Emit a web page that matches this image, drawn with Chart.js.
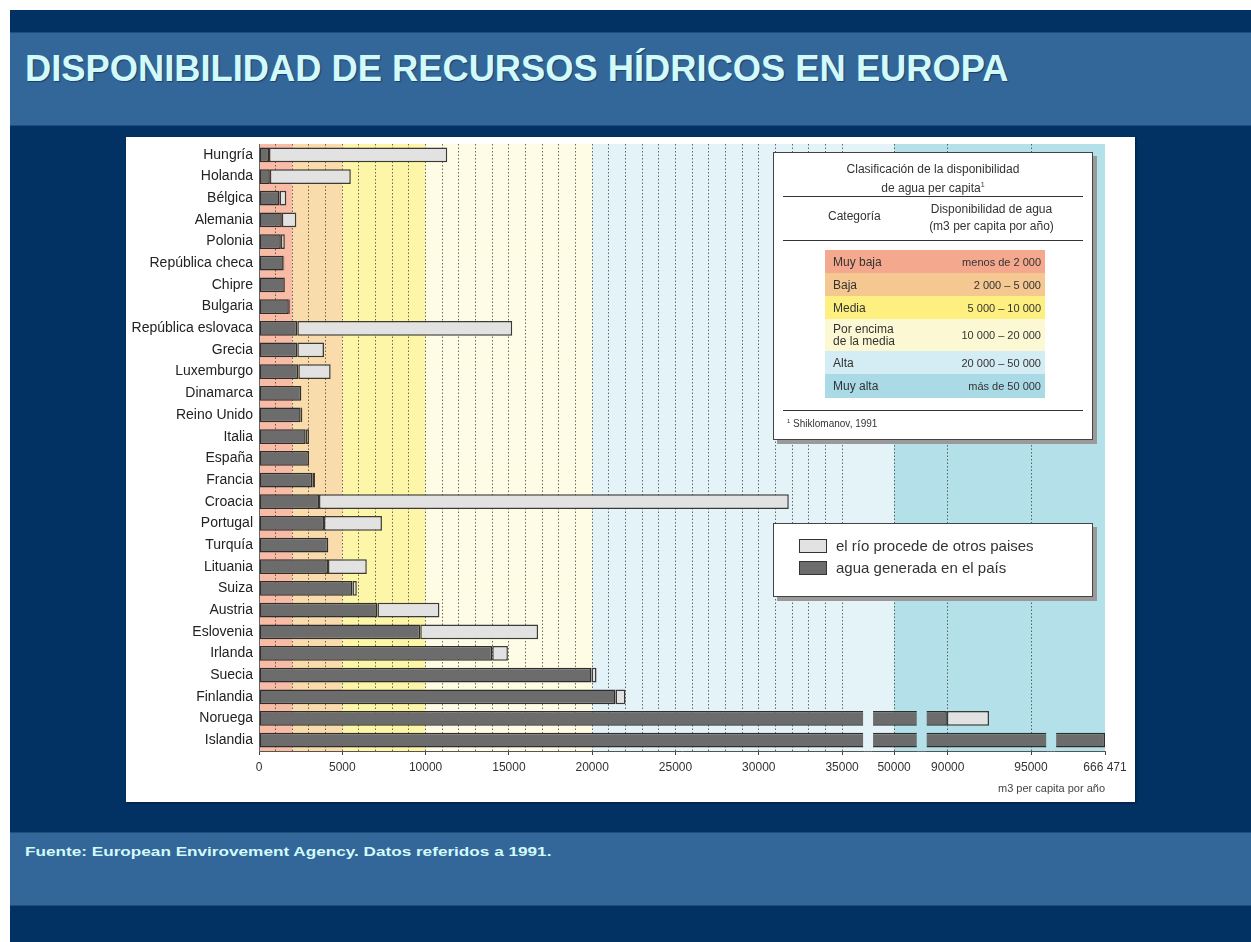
<!DOCTYPE html>
<html lang="es">
<head>
<meta charset="utf-8">
<title>Disponibilidad de recursos hídricos en Europa</title>
<script src="https://cdn.jsdelivr.net/npm/chart.js@4.4.1/dist/chart.umd.min.js"></script>
<style>
  html, body { margin: 0; padding: 0; background: #fff; }
  body { width: 1251px; height: 942px; position: relative; overflow: hidden;
         font-family: "Liberation Sans", Arial, sans-serif; }
  #slide { position: absolute; left: 10px; top: 10px; width: 1241px; height: 932px; background: #023263; }
  .band { position: absolute; left: 10px; width: 1241px; background: #336699;
          border-top: 1px solid #1f4d7d; border-bottom: 1px solid #1f4d7d; }
  #title { position: absolute; left: 25px; top: 51px; margin: 0; font-size: 36.3px; line-height: 36px;
           font-weight: bold; color: #d2fafa; text-shadow: 1px 1px 1px #1b3f66; white-space: nowrap; }
  #source { position: absolute; left: 25px; top: 845px; font-size: 13px; line-height: 13px;
            font-weight: bold; color: #d2fafa; white-space: nowrap;
            transform: scaleX(1.32); transform-origin: 0 0; }
  #panel { position: absolute; left: 126px; top: 137px; width: 1009px; height: 665px; background: #fff;
           box-shadow: 1px 1px 2px rgba(0,0,0,0.4); }
  #panel canvas { position: absolute; left: 0; top: 0; }
  .box { position: absolute; background: #fff; border: 1px solid #444; box-shadow: 4px 4px 0 #9a9a9a;
         color: #333; box-sizing: border-box; }
  .box .t { position: absolute; white-space: nowrap; }
  .box .rule { position: absolute; left: 9px; right: 9px; height: 0; border-top: 1.5px solid #333; }
  .zone { position: absolute; left: 51px; width: 220px; font-size: 12px; color: #333; }
  .zone span { position: absolute; top: 50%; transform: translateY(-50%); }
  .zone .n { left: 8px; line-height: 12px; }
  .zone .r { right: 4px; font-size: 11px; }
  #legend { left: 773px; top: 523px; width: 320px; height: 74px; }
  .lg { position: absolute; left: 25px; font-size: 15px; color: #333; white-space: nowrap; }
  .lg i { display: inline-block; width: 26px; height: 12px; border: 1.5px solid #333; vertical-align: -2px;
          margin-right: 9px; }
</style>
</head>
<body>
<div id="slide"></div>
<div class="band" style="top:32px;height:92px;"></div>
<div class="band" style="top:832px;height:72px;"></div>
<h1 id="title">DISPONIBILIDAD DE RECURSOS HÍDRICOS EN EUROPA</h1>
<div id="source">Fuente: European Envirovement Agency. Datos referidos a 1991.</div>

<div id="panel"><canvas id="aguaChart"></canvas></div>

<div class="box" id="clasif" style="left:773px;top:152px;width:320px;height:288px;">
  <div class="t" style="left:0;right:0;top:9px;text-align:center;font-size:12px;line-height:15px;">Clasificación de la disponibilidad<br>de agua per capita<sup style="font-size:7px;">1</sup></div>
  <div class="rule" style="top:43px;"></div>
  <div class="t" style="left:54px;top:56px;font-size:12px;">Categoría</div>
  <div class="t" style="left:140px;width:155px;top:48px;text-align:center;font-size:12px;line-height:17px;">Disponibilidad de agua<br>(m3 per capita por año)</div>
  <div class="rule" style="top:87px;"></div>
  <div id="zoneRows"></div>
  <div class="rule" style="top:257px;"></div>
  <div class="t" style="left:13px;top:265px;font-size:10px;"><sup style="font-size:6px;">1</sup> Shiklomanov, 1991</div>
</div>

<div class="box" id="legend"></div>

<script>
// datos (m3 per capita por año, 1991)
const paises = ['Hungría', 'Holanda', 'Bélgica', 'Alemania', 'Polonia', 'República checa', 'Chipre',
    'Bulgaria', 'República eslovaca', 'Grecia', 'Luxemburgo', 'Dinamarca', 'Reino Unido', 'Italia',
    'España', 'Francia', 'Croacia', 'Portugal', 'Turquía', 'Lituania', 'Suiza', 'Austria', 'Eslovenia',
    'Irlanda', 'Suecia', 'Finlandia', 'Noruega', 'Islandia'];
const aguaPropia = [600, 650, 1230, 1370, 1310, 1480, 1550, 1790, 2300, 2300, 2360, 2540, 2500, 2800,
    3000, 3200, 3600, 3900, 4160, 4140, 5610, 7110, 9680, 14000, 19960, 21400, 89950, 666471];
const aguaExterna = [10700, 4860, 410, 870, 240, 40, 0, 60, 12900, 1600, 1940, 0, 100, 200,
    0, 160, 28200, 3480, 0, 2330, 260, 3720, 7070, 940, 300, 600, 2530, 0];

const tickValues = [0, 5000, 10000, 15000, 20000, 25000, 30000, 35000, 50000, 90000, 95000, 666471];
const tickLabels = ['0', '5000', '10000', '15000', '20000', '25000', '30000', '35000', '50000', '90000', '95000', '666 471'];
const ejeMax = 666471;
// tramos visibles del eje cortado
const tramos = [[0, 36200], [48800, 51300], [88800, 95850], [663600, 666471]];
const corte = 720;

const zonaLimites = [0, 2000, 5000, 10000, 20000, 50000, ejeMax];
const zonaNombres = ['Muy baja', 'Baja', 'Media', 'Por encima<br>de la media', 'Alta', 'Muy alta'];
const zonaRangos = ['menos de 2 000', '2 000 – 5 000', '5 000 – 10 000', '10 000 – 20 000', '20 000 – 50 000', 'más de 50 000'];
const zonaFondo = ['#f8bba5', '#f9dbac', '#fdf5a8', '#fefce4', '#e3f3f7', '#b3e0e9'];
const zonaTabla = ['#f4a98e', '#f5c892', '#fdef80', '#fdf8d4', '#d4ecf3', '#a9dae6'];

// lineas de rejilla cada 1000 hasta 35000
const rejilla = [];
for (let v = 0; v <= 35000; v += 1000) rejilla.push(v);
rejilla.push(50000, 90000, 95000, ejeMax);

function comprimir(v) {
    let off = 0;
    for (let i = 0; i < tramos.length; i++) {
        const [a, b] = tramos[i];
        if (v <= b) return off + Math.max(0, v - a);
        off += (b - a) + corte;
    }
    return off - corte;
}
const totalComprimido = comprimir(ejeMax);

function expandir(c) {
    let off = 0;
    for (let i = 0; i < tramos.length; i++) {
        const [a, b] = tramos[i];
        if (c <= off + (b - a)) return a + Math.max(0, c - off);
        off += (b - a) + corte;
    }
    return ejeMax;
}

class EjeCortado extends Chart.LinearScale {
    determineDataLimits() {
        this.min = 0;
        this.max = ejeMax;
    }
    buildTicks() {
        return rejilla.map(v => ({ value: v }));
    }
    getPixelForValue(value) {
        if (value === null || value === undefined || isNaN(value)) return NaN;
        return this.getPixelForDecimal(comprimir(value) / totalComprimido);
    }
    getValueForPixel(pixel) {
        return expandir(this.getDecimalForPixel(pixel) * totalComprimido);
    }
}
EjeCortado.id = 'cortado';
EjeCortado.defaults = Chart.LinearScale.defaults;
Chart.register(EjeCortado);

function colorZona(v) {
    for (let i = 0; i < zonaFondo.length; i++) {
        if (v < zonaLimites[i + 1]) return zonaFondo[i];
    }
    return zonaFondo[zonaFondo.length - 1];
}

const fondoZonas = {
    id: 'fondoZonas',
    beforeDraw(chart) {
        const { ctx, chartArea } = chart;
        const x = chart.scales.x;
        ctx.save();
        for (let i = 0; i < zonaFondo.length; i++) {
            const x0 = x.getPixelForValue(zonaLimites[i]);
            const x1 = x.getPixelForValue(zonaLimites[i + 1]);
            ctx.fillStyle = zonaFondo[i];
            ctx.fillRect(x0, chartArea.top, x1 - x0, chartArea.bottom - chartArea.top);
        }
        ctx.restore();
    },
    afterDatasetsDraw(chart) {
        // huecos del eje cortado
        const { ctx, chartArea } = chart;
        const x = chart.scales.x;
        ctx.save();
        for (let i = 0; i < tramos.length - 1; i++) {
            const x0 = x.getPixelForValue(tramos[i][1]) + 1;
            const x1 = x.getPixelForValue(tramos[i + 1][0]) - 1;
            ctx.fillStyle = colorZona(tramos[i][1]);
            ctx.fillRect(x0, chartArea.top, x1 - x0, chartArea.bottom - chartArea.top - 1);
            ctx.fillStyle = '#777';
            for (let d = x0 + 1; d < x1; d += 3) ctx.fillRect(d, chartArea.bottom, 1.5, 1);
        }
        ctx.restore();
    }
};

const ctx = document.getElementById('aguaChart').getContext('2d');
const chart = new Chart(ctx, {
    type: 'bar',
    data: {
        labels: paises,
        datasets: [
            {
                label: 'agua generada en el país',
                data: aguaPropia,
                backgroundColor: '#6c6c6c',
                borderColor: '#2e2e2e',
                borderWidth: 1.5,
                borderSkipped: false
            },
            {
                label: 'el río procede de otros paises',
                data: aguaExterna,
                backgroundColor: '#e2e2e2',
                borderColor: '#3a3a3a',
                borderWidth: 1.5,
                borderSkipped: false
            }
        ]
    },
    options: {
        indexAxis: 'y',
        responsive: true,
        maintainAspectRatio: false,
        animation: false,
        barPercentage: 0.68,
        categoryPercentage: 1,
        layout: { padding: { top: 7, right: 30, left: 0, bottom: 0 } },
        plugins: {
            legend: { display: false },
            tooltip: { enabled: false }
        },
        scales: {
            x: {
                type: 'cortado',
                stacked: true,
                afterFit: s => { s.height = 51; },
                grid: {
                    color: c => (c.tick && c.tick.value > 0 && c.tick.value < ejeMax) ? 'rgba(30,30,30,0.65)' : 'rgba(0,0,0,0)',
                    lineWidth: 1,
                    drawTicks: true,
                    tickLength: 4,
                    tickColor: c => (c.tick && tickValues.includes(c.tick.value)) ? '#444' : 'rgba(0,0,0,0)'
                },
                border: { display: true, color: '#555', width: 1, dash: [1.5, 2] },
                ticks: {
                    autoSkip: false,
                    maxRotation: 0,
                    padding: 5,
                    color: '#333',
                    font: { family: '"Liberation Sans", Arial, sans-serif', size: 12 },
                    callback: v => {
                        const i = tickValues.indexOf(v);
                        return i >= 0 ? tickLabels[i] : '';
                    }
                },
                title: {
                    display: true,
                    text: 'm3 per capita por año',
                    align: 'end',
                    color: '#444',
                    font: { family: '"Liberation Sans", Arial, sans-serif', size: 11 },
                    padding: { top: 0, bottom: 6 }
                }
            },
            y: {
                stacked: true,
                afterFit: s => {
                    s.width = 133;
                    s.paddingTop = 0;
                    s.paddingBottom = 0;
                },
                grid: { display: false, drawTicks: false },
                border: { display: true, color: '#666', width: 1 },
                ticks: {
                    autoSkip: false,
                    padding: 6,
                    color: '#222',
                    font: { family: '"Liberation Sans", Arial, sans-serif', size: 14 }
                }
            }
        }
    },
    plugins: [fondoZonas]
});

// tabla de clasificacion
const filas = document.getElementById('zoneRows');
const alturas = [23, 23, 23, 32, 23, 24];
let posY = 97;
zonaNombres.forEach((n, i) => {
    const d = document.createElement('div');
    d.className = 'zone';
    d.style.top = posY + 'px';
    d.style.height = alturas[i] + 'px';
    d.style.background = zonaTabla[i];
    d.innerHTML = '<span class="n">' + n + '</span><span class="r">' + zonaRangos[i] + '</span>';
    filas.appendChild(d);
    posY += alturas[i];
});

// leyenda a partir de los datasets
const leyenda = document.getElementById('legend');
chart.data.datasets.slice().reverse().forEach((ds, i) => {
    const d = document.createElement('div');
    d.className = 'lg';
    d.style.top = (13 + i * 22) + 'px';
    d.innerHTML = '<i style="background:' + ds.backgroundColor + '"></i>' + ds.label;
    leyenda.appendChild(d);
});
</script>
</body>
</html>
